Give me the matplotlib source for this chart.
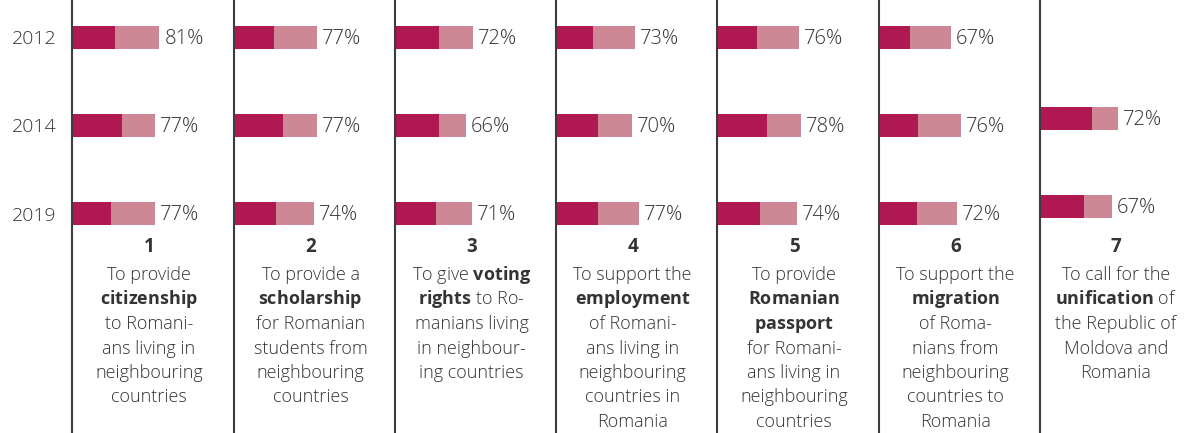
import matplotlib
matplotlib.use('Agg')
import matplotlib.pyplot as plt

plt.rcParams['font.family'] = ['Open Sans', 'DejaVu Sans']
plt.rcParams['font.weight'] = 'light'
plt.rcParams['mathtext.fontset'] = 'custom'
plt.rcParams['mathtext.rm'] = 'Open Sans:light'
plt.rcParams['mathtext.bf'] = 'Open Sans:bold'

years = ['2012', '2014', '2019']
# dark part of each bar and the total shown as label (None = no data)
dark = [[40, 46, 36], [37, 45, 39], [41, 41, 38], [34, 39, 39],
        [37, 46, 40], [29, 36, 35], [None, 48, 41]]
total = [[81, 77, 77], [77, 77, 74], [72, 66, 71], [73, 70, 77],
         [76, 78, 74], [67, 76, 72], [None, 72, 67]]
numbers = ['1', '2', '3', '4', '5', '6', '7']
captions = [
    ['To provide', r'$\mathbf{citizenship}$', 'to Romani-', 'ans living in', 'neighbouring', 'countries'],
    ['To provide a', r'$\mathbf{scholarship}$', 'for Romanian', 'students from', 'neighbouring', 'countries'],
    [r'To give $\mathbf{voting}$', r'$\mathbf{rights}$ to Ro-', 'manians living', 'in neighbour-', 'ing countries'],
    ['To support the', r'$\mathbf{employment}$', 'of Romani-', 'ans living in', 'neighbouring', 'countries in', 'Romania'],
    ['To provide', r'$\mathbf{Romanian}$', r'$\mathbf{passport}$', 'for Romani-', 'ans living in', 'neighbouring', 'countries'],
    ['To support the', r'$\mathbf{migration}$', 'of Roma-', 'nians from', 'neighbouring', 'countries to', 'Romania'],
    ['To call for the', r'$\mathbf{unification}$ of', 'the Republic of', 'Moldova and', 'Romania'],
]

c_dark = '#B01852'
c_light = '#CE8795'
c_text = '#333333'
c_line = '#3c3c3c'

W, H = 1200, 433
fig = plt.figure(figsize=(12, 4.33), dpi=100)
lefts = [72, 234, 395, 556, 717, 879, 1040]
pxper = 1.08  # pixels per percent

for p in range(7):
    l = lefts[p]
    w = (lefts[p + 1] if p < 6 else W) - l
    ax = fig.add_axes([l / W, 0, w / W, 1])
    ax.set_xlim(0, w / pxper)
    # rows: centre of first row at 37.5px, 88px apart
    ax.set_ylim((H - 37.5) / 88, -37.5 / 88)
    shift = -0.08 if p == 6 else 0
    for i in range(3):
        if dark[p][i] is None:
            continue
        d = dark[p][i]
        t = total[p][i]
        y = i + shift
        ax.barh(y, d, height=0.26, color=c_dark)
        ax.barh(y, t - d, left=d, height=0.26, color=c_light)
        ax.annotate(f'{t}%', xy=(t, y), xytext=(3.5, -1.2), textcoords='offset points',
                    va='center', ha='left', fontsize=14.5, color=c_text)
    for s in ['top', 'right', 'bottom']:
        ax.spines[s].set_visible(False)
    ax.spines['left'].set_color(c_line)
    ax.spines['left'].set_linewidth(1.5)
    ax.set_xticks([])
    if p == 0:
        ax.set_yticks(range(3))
        ax.set_yticklabels(years, fontsize=14, color=c_text)
        ax.tick_params(axis='y', length=0, pad=11)
    else:
        ax.set_yticks([])
    cx = 0.5 - 4 / w
    ax.text(cx, 1 - 252 / H, numbers[p], transform=ax.transAxes, ha='center',
            va='baseline', fontsize=13.5, fontweight='bold', color=c_text)
    for j, line in enumerate(captions[p]):
        yb = 280 + 24.5 * j
        ax.text(cx, 1 - yb / H, line, transform=ax.transAxes, ha='center',
                va='baseline', fontsize=13, color=c_text)

fig.savefig('out.png', dpi=100)
